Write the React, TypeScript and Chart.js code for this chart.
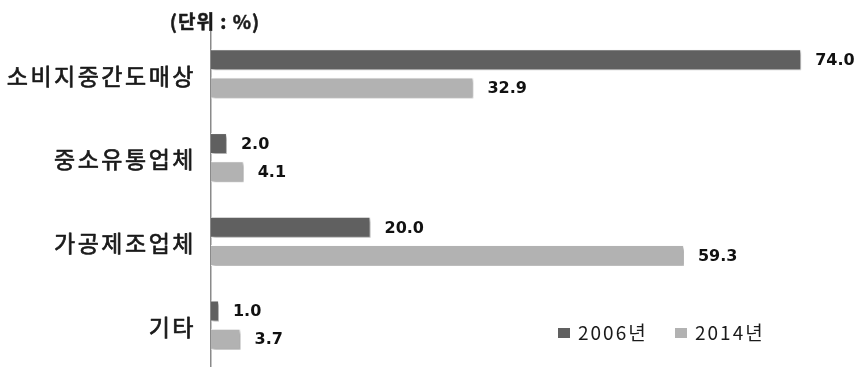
import React, { useEffect, useRef } from "react";
import { Chart, registerables } from "chart.js";

Chart.register(...registerables);

const categories = ["소비지중간도매상", "중소유통업체", "가공제조업체", "기타"];
const seriesNames = ["2006년", "2014년"];
const values2006 = [74.0, 2.0, 20.0, 1.0];
const values2014 = [32.9, 4.1, 59.3, 3.7];
const seriesColors = ["#606060", "#b2b2b2"];
const unitLabel = "(단위 : %)";

const KR_FONT = "'Noto Sans CJK KR', 'Noto Sans', sans-serif";
const NUM_FONT = "'DejaVu Sans', Verdana, sans-serif";

// soft drop shadow under the bars
const barShadow = {
  id: "barShadow",
  beforeDatasetsDraw(chart: any) {
    const ctx = chart.ctx;
    ctx.save();
    ctx.shadowColor = "rgba(0,0,0,0.35)";
    ctx.shadowBlur = 3;
    ctx.shadowOffsetX = 2;
    ctx.shadowOffsetY = 2;
  },
  afterDatasetsDraw(chart: any) {
    chart.ctx.restore();
  },
};

// value labels to the right of each bar
const valueLabels = {
  id: "valueLabels",
  afterDraw(chart: any) {
    const ctx = chart.ctx;
    ctx.save();
    ctx.font = `bold 16px ${NUM_FONT}`;
    ctx.fillStyle = "#111111";
    ctx.textAlign = "left";
    ctx.textBaseline = "middle";
    chart.data.datasets.forEach((ds: any, i: number) => {
      const meta = chart.getDatasetMeta(i);
      meta.data.forEach((bar: any, j: number) => {
        const v = ds.data[j] as number;
        ctx.fillText(v.toFixed(1), bar.x + 14, bar.y + 1);
      });
    });
    ctx.restore();
  },
};

// category names, unit caption and legend
const captions = {
  id: "captions",
  afterDraw(chart: any) {
    const ctx = chart.ctx;
    const area = chart.chartArea;
    const yScale = chart.scales.y;
    ctx.save();
    ctx.fillStyle = "#1a1a1a";
    ctx.strokeStyle = "#1a1a1a";
    ctx.lineWidth = 0.7;
    ctx.lineJoin = "round";
    ctx.textBaseline = "middle";

    // medium-weight category names
    ctx.font = `23px ${KR_FONT}`;
    ctx.textAlign = "right";
    (ctx as any).letterSpacing = "2.5px";
    categories.forEach((name, i) => {
      const x = area.left - 15;
      const y = yScale.getPixelForValue(i) + 2;
      ctx.fillText(name, x, y);
      ctx.strokeText(name, x, y);
    });

    ctx.textAlign = "center";
    ctx.font = `bold 19px ${KR_FONT}`;
    (ctx as any).letterSpacing = "1px";
    ctx.lineWidth = 0.5;
    ctx.fillText(unitLabel, area.left + 4, 22);
    ctx.strokeText(unitLabel, area.left + 4, 22);

    ctx.font = `19px ${KR_FONT}`;
    ctx.textAlign = "left";
    (ctx as any).letterSpacing = "2px";
    let x = 558;
    const y = 333;
    seriesNames.forEach((name, i) => {
      ctx.fillStyle = seriesColors[i];
      ctx.fillRect(x, y - 5, 12, 10);
      ctx.fillStyle = "#1a1a1a";
      ctx.fillText(name, x + 20, y);
      x += 117;
    });
    ctx.restore();
  },
};

export default function App() {
  const ref = useRef<HTMLCanvasElement>(null);

  useEffect(() => {
    if (!ref.current) return;
    const chart = new Chart(ref.current, {
      type: "bar",
      data: {
        labels: categories,
        datasets: [
          {
            label: seriesNames[0],
            data: values2006,
            backgroundColor: seriesColors[0],
            borderColor: "rgba(255,255,255,0.85)",
            borderWidth: 1,
            categoryPercentage: 0.67,
            barPercentage: 0.75,
          },
          {
            label: seriesNames[1],
            data: values2014,
            backgroundColor: seriesColors[1],
            borderColor: "rgba(255,255,255,0.85)",
            borderWidth: 1,
            categoryPercentage: 0.67,
            barPercentage: 0.75,
          },
        ],
      },
      options: {
        indexAxis: "y",
        animation: false,
        responsive: false,
        layout: { padding: { top: 32, right: 0, bottom: 0, left: 0 } },
        plugins: {
          legend: { display: false },
          tooltip: { enabled: false },
        },
        scales: {
          x: {
            display: false,
            min: 0,
            max: 81.5,
          },
          y: {
            afterFit(scale: any) {
              scale.width = 211;
              scale.paddingTop = 0;
              scale.paddingBottom = 0;
            },
            grid: { display: false, drawTicks: false },
            border: { display: true, color: "#8a8a8a", width: 1.5 },
            ticks: { display: false },
          },
        },
      },
      plugins: [barShadow, valueLabels, captions],
    });
    return () => chart.destroy();
  }, []);

  return (
    <div style={{ position: "fixed", left: 0, top: 0, width: 861, height: 367, background: "#ffffff" }}>
      <canvas ref={ref} width={861} height={367} />
    </div>
  );
}
